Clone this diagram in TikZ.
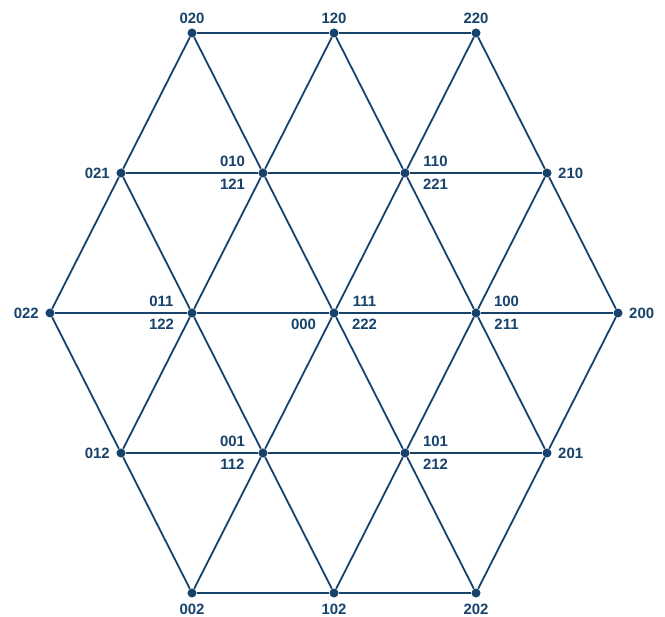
\documentclass[tikz,border=0pt]{standalone}
\usepackage{fontspec}
\setmainfont{Liberation Sans}
\usepackage{tikz}
\usetikzlibrary{positioning}
\definecolor{azulrede}{HTML}{17426B}

\begin{document}
\begin{tikzpicture}[
    x=1bp, y=1bp,
    vertice/.style={circle, fill=azulrede, inner sep=0pt, minimum size=9bp},
    aresta/.style={azulrede, line width=1.8bp},
    rotulo/.style={font=\fontsize{15}{17}\selectfont\bfseries, text=azulrede, inner sep=0pt, anchor=center},
    cima/.style={label={[rotulo, anchor=center, label distance=10bp]90:#1}},
    baixo/.style={label={[rotulo, anchor=center, label distance=12bp]270:#1}},
    esq/.style={label={[rotulo, anchor=center, label distance=19bp]180:#1}},
    dir/.style={label={[rotulo, anchor=center, label distance=19bp]0:#1}},
    ne/.style={label={[rotulo, anchor=center, label distance=28bp]21:#1}},
    no/.style={label={[rotulo, anchor=center, label distance=28bp]159:#1}},
    so/.style={label={[rotulo, anchor=center, label distance=28bp]201:#1}},
    se/.style={label={[rotulo, anchor=center, label distance=28bp]339:#1}}
  ]
  \useasboundingbox (-334,-304) rectangle (331,313);

  % Vertices, linha a linha
  \node[vertice, cima=020] (n020) at (-142,280) {};
  \node[vertice, cima=120] (n120) at (0,280) {};
  \node[vertice, cima=220] (n220) at (142,280) {};

  \node[vertice, esq=021] (n021) at (-213,140) {};
  \node[vertice, no=010, so=121] (n010) at (-71,140) {};
  \node[vertice, ne=110, se=221] (n110) at (71,140) {};
  \node[vertice, dir=210] (n210) at (213,140) {};

  \node[vertice, esq=022] (n022) at (-284,0) {};
  \node[vertice, no=011, so=122] (n011) at (-142,0) {};
  \node[vertice, so=000, ne=111, se=222] (n000) at (0,0) {};
  \node[vertice, ne=100, se=211] (n100) at (142,0) {};
  \node[vertice, dir=200] (n200) at (284,0) {};

  \node[vertice, esq=012] (n012) at (-213,-140) {};
  \node[vertice, no=001, so=112] (n001) at (-71,-140) {};
  \node[vertice, ne=101, se=212] (n101) at (71,-140) {};
  \node[vertice, dir=201] (n201) at (213,-140) {};

  \node[vertice, baixo=002] (n002) at (-142,-280) {};
  \node[vertice, baixo=102] (n102) at (0,-280) {};
  \node[vertice, baixo=202] (n202) at (142,-280) {};

  % Arestas horizontais
  \draw[aresta] (n020) -- (n120) -- (n220);
  \draw[aresta] (n021) -- (n010) -- (n110) -- (n210);
  \draw[aresta] (n022) -- (n011) -- (n000) -- (n100) -- (n200);
  \draw[aresta] (n012) -- (n001) -- (n101) -- (n201);
  \draw[aresta] (n002) -- (n102) -- (n202);

  % Arestas subindo para a direita
  \draw[aresta] (n022) -- (n021) -- (n020);
  \draw[aresta] (n012) -- (n011) -- (n010) -- (n120);
  \draw[aresta] (n002) -- (n001) -- (n000) -- (n110) -- (n220);
  \draw[aresta] (n102) -- (n101) -- (n100) -- (n210);
  \draw[aresta] (n202) -- (n201) -- (n200);

  % Arestas descendo para a direita
  \draw[aresta] (n022) -- (n012) -- (n002);
  \draw[aresta] (n021) -- (n011) -- (n001) -- (n102);
  \draw[aresta] (n020) -- (n010) -- (n000) -- (n101) -- (n202);
  \draw[aresta] (n120) -- (n110) -- (n100) -- (n201);
  \draw[aresta] (n220) -- (n210) -- (n200);
\end{tikzpicture}
\end{document}
